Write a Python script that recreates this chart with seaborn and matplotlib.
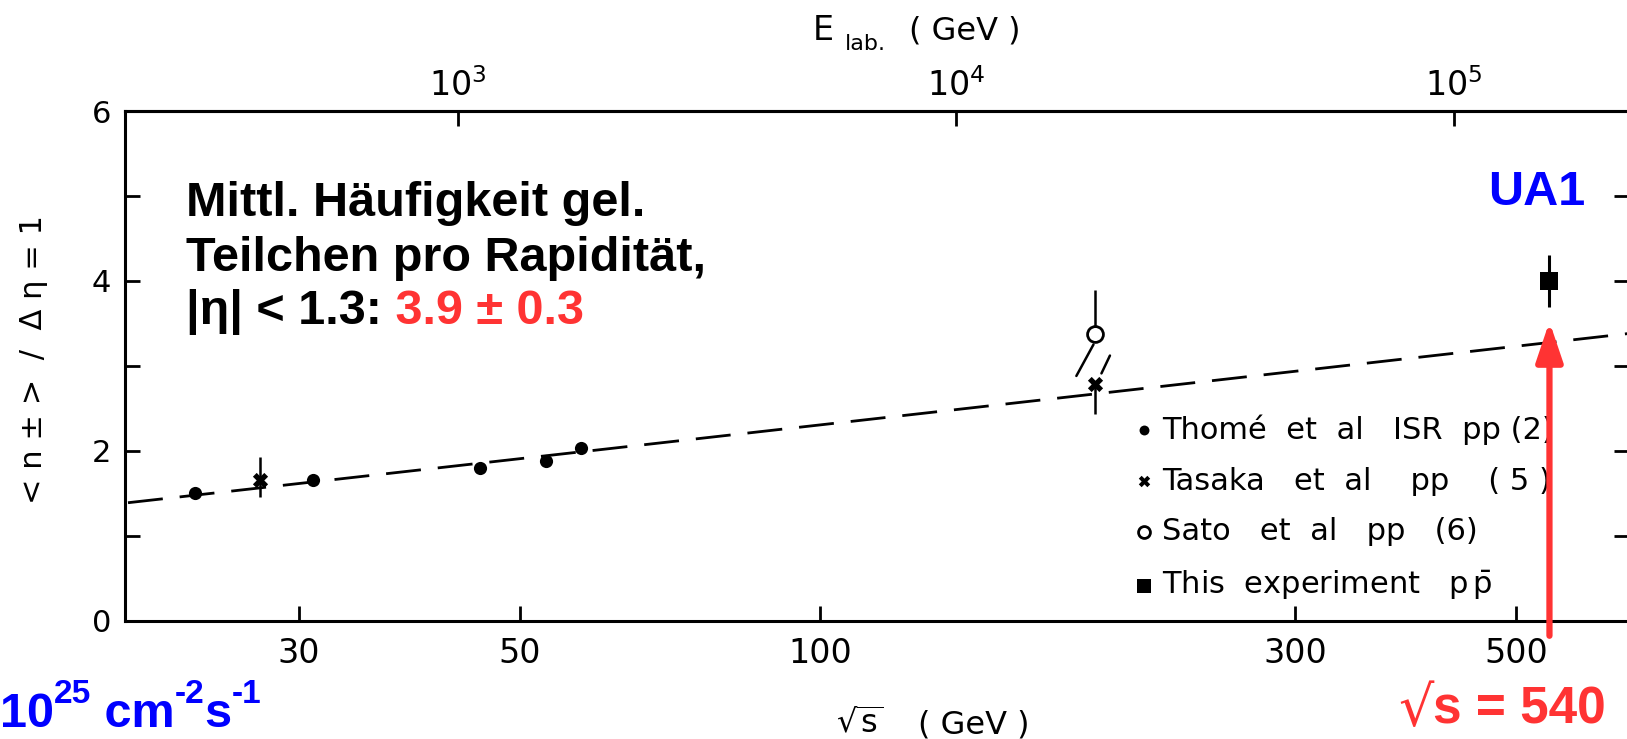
import numpy as np
import matplotlib
matplotlib.use("Agg")
import matplotlib.pyplot as plt
import matplotlib.text as mtext
import seaborn as sns
from matplotlib.ticker import NullLocator, FixedLocator, FixedFormatter

# ---------------- data ----------------
thome_sqrt_s = [23.6, 31.0, 45.6, 53.1, 57.5]
thome_n = [1.50, 1.65, 1.79, 1.88, 2.03]

tasaka_sqrt_s = [27.4, 188.7]
tasaka_n = [1.66, 2.78]
tasaka_err_lo = [0.21, 0.35]
tasaka_err_hi = [0.27, 0.0]

sato_sqrt_s = [188.7]
sato_n = [3.37]
sato_err_lo = [0.0]
sato_err_hi = [0.52]

ua1_sqrt_s = [540.0]
ua1_n = [4.0]
ua1_err = [0.31]

# displaced (slanted) error bars drawn in the original figure
sato_slash_s = [188.2, 180.9]
sato_slash_n = [3.25, 2.88]
tasaka_slash_s = [191.7, 195.5]
tasaka_slash_n = [2.91, 3.12]

# dashed fit curve
fit_sqrt_s = [20.2, 60.3, 184.0, 649.0]
fit_n = [1.387, 2.013, 2.653, 3.380]

# arrow marking the UA1 energy
arrow_tip_n = 3.52
arrow_tail_n = -0.18

x_ticks = [30, 50, 100, 300, 500]
x_ticklabels = ["30", "50", "100", "300", "500"]
y_major = [0, 2, 4, 6]
y_minor = [1, 3, 5]
e_ticks = [1e3, 1e4, 1e5]
e_ticklabels = [r"$10^{3}$", r"$10^{4}$", r"$10^{5}$"]
proton_mass = 0.938

labels = ["Thomé  et  al   ISR  pp (2)",
          "Tasaka   et  al    pp    ( 5 )",
          "Sato   et  al   pp   (6)",
          r"This  experiment   $\mathregular{p\,\bar{p}}$"]

# ---------------- style ----------------
sns.set_theme(style="ticks", rc={
    "axes.edgecolor": "black", "xtick.color": "black", "ytick.color": "black",
    "text.color": "black", "axes.labelcolor": "black"})
plt.rcParams["font.family"] = ["DejaVu Sans"]

W, H = 1627, 739
fig = plt.figure(figsize=(W / 100, H / 100), dpi=100)
ax = fig.add_axes([125 / W, 1 - 620.5 / H, (1629 - 125) / W, (620.5 - 111) / H])
ax.set_xscale("log")

BLACK = "black"
RED = "#ff3333"
BLUE = "#0000ff"
BOLD = ["Liberation Sans", "DejaVu Sans"]

# dashed curve
sns.lineplot(x=fit_sqrt_s, y=fit_n, ax=ax, color=BLACK, linewidth=2.0,
             linestyle=(0, (12.6, 6.1)), zorder=2, legend=False)

# error bars
ax.errorbar(tasaka_sqrt_s, tasaka_n, yerr=[tasaka_err_lo, tasaka_err_hi], fmt="none",
            ecolor=BLACK, elinewidth=1.8, capsize=0, zorder=3, label="_nolegend_")
ax.errorbar(sato_sqrt_s, sato_n, yerr=[sato_err_lo, sato_err_hi], fmt="none",
            ecolor=BLACK, elinewidth=1.8, capsize=0, zorder=3, label="_nolegend_")
ax.errorbar(ua1_sqrt_s, ua1_n, yerr=ua1_err, fmt="none",
            ecolor=BLACK, elinewidth=2.2, capsize=0, zorder=3, label="_nolegend_")
ax.plot(sato_slash_s, sato_slash_n, color=BLACK, lw=1.8, zorder=3)
ax.plot(tasaka_slash_s, tasaka_slash_n, color=BLACK, lw=1.8, zorder=3)

# markers
sns.scatterplot(x=thome_sqrt_s, y=thome_n, ax=ax, marker="o", s=90, color=BLACK,
                edgecolor=BLACK, linewidth=0, label=labels[0], zorder=4)
sns.scatterplot(x=tasaka_sqrt_s, y=tasaka_n, ax=ax, marker="X", s=120, color=BLACK,
                edgecolor=BLACK, linewidth=0, label=labels[1], zorder=4)
sns.scatterplot(x=sato_sqrt_s, y=sato_n, ax=ax, marker="o", s=130, color="white",
                edgecolor=BLACK, linewidth=2.0, label=labels[2], zorder=4)
sns.scatterplot(x=ua1_sqrt_s, y=ua1_n, ax=ax, marker="s", s=170, color=BLACK,
                edgecolor=BLACK, linewidth=0, label=labels[3], zorder=4)

# axes limits / ticks
ax.set_xlim(20.06, 649)
ax.set_ylim(0, 6)
ax.xaxis.set_major_locator(FixedLocator(x_ticks))
ax.xaxis.set_major_formatter(FixedFormatter(x_ticklabels))
ax.xaxis.set_minor_locator(NullLocator())
ax.set_yticks(y_major)
ax.set_yticks(y_minor, minor=True)
ax.tick_params(which="both", direction="in", length=11, width=2.0,
               left=True, right=True, bottom=True, top=False)
ax.tick_params(axis="x", labelsize=24, pad=12)
ax.tick_params(axis="y", labelsize=22, pad=10)
for s in ax.spines.values():
    s.set_linewidth(2.2)
    s.set_color(BLACK)
ax.set_xlabel("")
ax.set_ylabel("")

# top axis: laboratory energy
secax = ax.secondary_xaxis(
    "top",
    functions=(lambda x: np.asarray(x) ** 2 / (2 * proton_mass),
               lambda e: np.sqrt(np.clip(np.asarray(e), 1e-9, None) * 2 * proton_mass)))
secax.xaxis.set_major_locator(FixedLocator(e_ticks))
secax.xaxis.set_major_formatter(FixedFormatter(e_ticklabels))
secax.xaxis.set_minor_locator(NullLocator())
secax.tick_params(which="both", direction="in", length=11, width=2.0, labelsize=24, pad=6)
for s in secax.spines.values():
    s.set_linewidth(2.2)

# legend
leg = ax.legend(loc="upper left", bbox_to_anchor=(1136 / W, 1 - 414 / H),
                bbox_transform=fig.transFigure, frameon=False, fontsize=22,
                handlelength=0.55, handletextpad=0.3, labelspacing=0.72,
                borderpad=0, borderaxespad=0, markerscale=0.75)
for t in leg.get_texts():
    t.set_math_fontfamily("dejavusans")
leg.set_zorder(5)

# red arrow at sqrt(s)=540
ax.annotate("", xy=(ua1_sqrt_s[0], arrow_tip_n), xytext=(ua1_sqrt_s[0], arrow_tail_n),
            arrowprops=dict(arrowstyle="-|>,head_length=0.8,head_width=0.27",
                            color=RED, lw=4.5, shrinkA=0, shrinkB=0, mutation_scale=30),
            annotation_clip=False, zorder=6)

# axis titles
fig.text(813 / W, 1 - 40 / H, "E", fontsize=24, va="baseline", ha="left")
fig.text(845 / W, 1 - 50 / H, "lab.", fontsize=16, va="baseline", ha="left")
fig.text(909 / W, 1 - 40 / H, "( GeV )", fontsize=23, va="baseline", ha="left")
fig.text(836 / W, 1 - 733 / H, r"$\sqrt{\mathrm{s}}$", fontsize=23, va="baseline", ha="left",
         math_fontfamily="dejavusans")
fig.text(918 / W, 1 - 733 / H, "( GeV )", fontsize=23, va="baseline", ha="left")
fig.text(34 / W, 1 - 360 / H, "< n ± >  /  Δ η = 1", fontsize=22, rotation=90,
         ha="center", va="center")


def chain(first, pieces):
    """Place text pieces one after another."""
    prev = first
    for txt, size, base, kw in pieces:
        a = mtext.Annotation(txt, xy=(1.0, 1 - base / H), xycoords=(prev, "figure fraction"),
                             fontsize=size, va="baseline", ha="left", **kw)
        fig.add_artist(a)
        prev = a
    return prev


# annotations
fig.text(186 / W, 1 - 216 / H, "Mittl. Häufigkeit gel.", fontsize=35,
         fontweight="bold", family=BOLD, va="baseline")
fig.text(186 / W, 1 - 271 / H, "Teilchen pro Rapidität,", fontsize=35,
         fontweight="bold", family=BOLD, va="baseline")
t3 = fig.text(186 / W, 1 - 324 / H, "|η| < 1.3:", fontsize=35,
              fontweight="bold", family=BOLD, va="baseline")
chain(t3, [(" 3.9 ± 0.3", 35, 324, dict(fontweight="bold", family=BOLD, color=RED))])

fig.text(1488 / W, 1 - 205 / H, "UA1", fontsize=35, fontweight="bold",
         family=BOLD, color=BLUE, va="baseline")

bkw = dict(fontweight="bold", family=BOLD, color=BLUE)
t10 = fig.text(0, 1 - 727 / H, "10", fontsize=35, va="baseline", ha="left", **bkw)
chain(t10, [("25", 24, 703, bkw), (" cm", 35, 727, bkw), ("-2", 24, 703, bkw),
            ("s", 35, 727, bkw), ("-1", 24, 703, bkw)])

tsq = fig.text(1398 / W, 1 - 726 / H, "√", fontsize=40, color=RED, va="baseline",
               family=["DejaVu Sans"])
chain(tsq, [("s = 540", 37, 723, dict(fontweight="bold", family=BOLD, color=RED))])

fig.savefig("out.png", dpi=100)
